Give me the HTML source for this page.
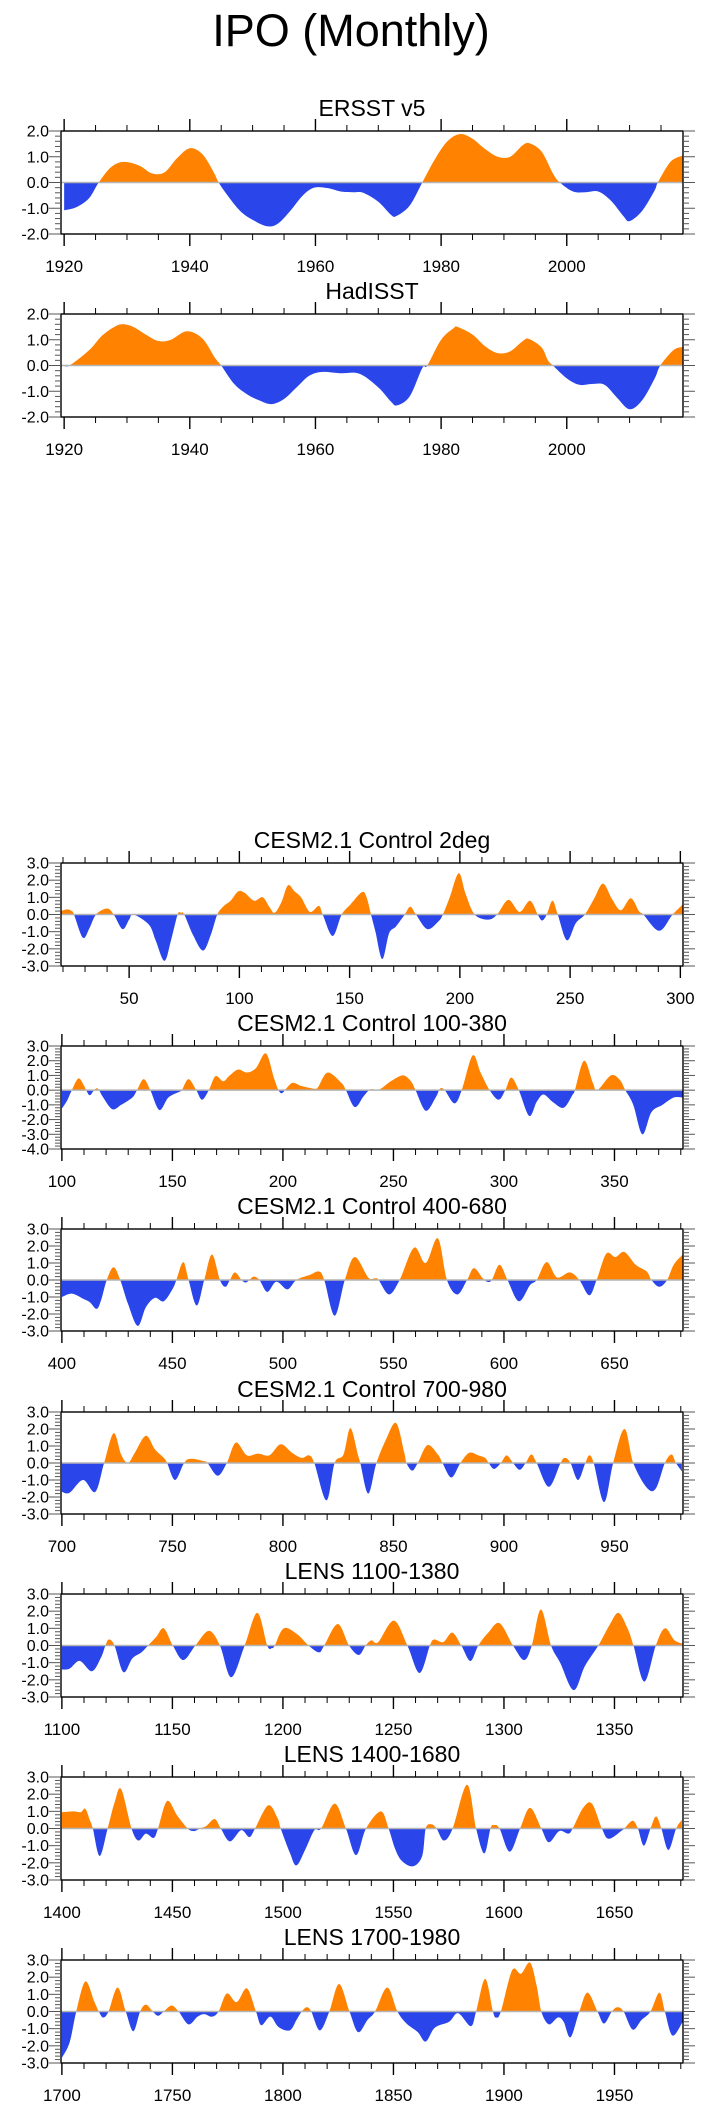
<!DOCTYPE html>
<html><head><meta charset="utf-8"><title>IPO (Monthly)</title>
<style>
html,body{margin:0;padding:0;background:#fff;}
svg{display:block;font-family:"Liberation Sans",sans-serif;}
</style></head>
<body>
<svg id="chart" width="703" height="2109" viewBox="0 0 703 2109" xmlns="http://www.w3.org/2000/svg">
<text x="351" y="46" text-anchor="middle" font-size="45" fill="#000">IPO (Monthly)</text>
</svg>
<script>
// ===== Data (x positions in years, values = IPO index) =====
const ersstX = [1920,1922,1924,1925.5,1927.5,1929.5,1932,1934,1936,1938,1940,1942,1943.8,1944.6,1946,1948,1950,1952.3,1954,1956,1958,1959.8,1962,1964,1966,1967.6,1970,1972,1972.9,1975,1977,1979,1981,1983,1985,1987,1989,1991,1993,1994.1,1996,1997.8,1998.9,2001,2003,2005,2007,2009,2010,2012,2014,2014.5,2016.5,2018.4];
const ersstV = [-1.08,-0.95,-0.6,0,0.6,0.8,0.65,0.35,0.4,0.95,1.33,1.1,0.4,0,-0.5,-1.1,-1.45,-1.7,-1.6,-1.1,-0.5,-0.2,-0.22,-0.35,-0.38,-0.4,-0.75,-1.25,-1.3,-0.9,0,0.9,1.6,1.88,1.7,1.3,1.0,1.0,1.45,1.52,1.2,0.35,0,-0.35,-0.38,-0.35,-0.7,-1.3,-1.5,-1.1,-0.3,0,0.8,1.05];
const hadX = [1920,1921,1924,1926,1928,1929.3,1931,1933,1935,1937,1939.5,1942,1944,1945,1947,1949,1951,1953,1955,1957,1959,1961,1964,1967,1970,1972,1973,1975,1977,1977.8,1980,1982,1982.6,1985,1987,1989,1991,1993,1994,1996,1997,1997.8,2000,2002,2004,2006,2008,2010,2012,2014,2014.9,2017,2018.4];
const hadV = [-0.02,0.02,0.6,1.15,1.5,1.6,1.5,1.2,0.95,1.0,1.33,1.05,0.3,0,-0.7,-1.1,-1.35,-1.5,-1.3,-0.85,-0.4,-0.25,-0.3,-0.32,-0.85,-1.4,-1.55,-1.2,-0.1,0,1.0,1.45,1.5,1.2,0.75,0.48,0.55,0.95,1.03,0.7,0.2,0,-0.5,-0.75,-0.72,-0.75,-1.25,-1.7,-1.35,-0.5,0,0.6,0.72];
const c2degX = [19,22,24,25,29,32,35,40,43,47,50,52,59,62,66,69,72,73.5,75,79,83.5,87,90,93,96,99.5,102.5,106.7,110.6,113.8,116,119,122,125,128,132,136,137.8,142.3,146.4,150.5,155.6,157.7,159.7,161.7,164.8,167.9,171,175,177.5,180.1,185.2,190.3,192.3,195.4,199.5,202.6,206.7,212.8,216.9,222,227.1,231.8,235.3,237.3,239.4,242,244.4,248.5,252.6,256.7,260.8,264.9,269,273,277.5,281.2,283.2,290.4,296.5,301.6];
const c2degV = [0.2,0.3,0.2,0,-1.35,-0.8,0,0.35,0,-0.85,-0.3,0,-0.6,-1.5,-2.7,-1.5,0,0.1,0,-1.2,-2.1,-1.2,0,0.5,0.8,1.35,1.25,0.8,1.0,0.4,0.1,0.7,1.7,1.35,1.0,0.15,0.5,0,-1.25,0,0.6,1.3,1.0,0,-1.0,-2.6,-1.1,-0.7,0,0.45,0,-0.85,-0.4,0,1.0,2.4,1.2,0,-0.3,0,0.85,0.15,0.8,0,-0.35,0,0.8,0,-1.5,-0.5,0,0.9,1.8,0.9,0.25,0.95,0.2,0,-0.95,0,0.65];
const c100X = [100,102.4,104.5,107.5,110,111,112.6,114.6,116.3,118.7,122.8,126.8,131.9,134,137,140,144.1,148.2,153.3,154.3,157.3,160.8,163.4,166.5,169.5,173,175.6,179.7,183.7,187.8,192.3,196,198,199.6,202,204.5,208,212.2,215.2,216.3,220.3,226.4,228.5,232.5,236.6,239.6,243.7,248.8,254.3,257.9,260,264.6,269.1,271.1,273.2,277.6,280.9,285.8,289.4,293.5,297.6,300.6,303.3,306.7,311.4,314.8,317.9,322,327,331.1,332.1,336.2,340.2,342.3,348.4,352.4,354.9,358.5,362.6,366.7,371.7,376.8,380.9];
const c100V = [-1.25,-0.7,0,0.8,0.3,0,-0.35,0,0.1,-0.5,-1.3,-1.0,-0.5,0,0.75,0,-1.35,-0.5,-0.1,0,0.75,0,-0.65,0,0.95,0.6,0.95,1.4,1.2,1.5,2.5,0.8,0,-0.2,0.2,0.5,0.3,0.15,0.1,0.3,1.2,0.5,0,-1.15,-0.4,0.05,0.05,0.6,1.0,0.6,0,-1.4,-0.5,0.1,0,-0.9,0,2.35,1.2,0,-0.65,0,0.85,0,-1.75,-0.8,-0.3,-0.8,-1.2,-0.3,0,2.0,0.5,0,1.0,0.7,0,-1.0,-3.0,-1.5,-1.0,-0.5,-0.5];
const c400X = [400,404.5,409.6,412.6,415.7,417.7,420.3,423.4,426.4,429.9,434.3,438,442.1,446.1,450.2,451.8,454.9,457.3,461,464.4,467.9,471.5,474,476,478.3,481.3,483.1,484.8,486.8,489.4,492.9,497,502,506.1,512.2,516.3,518.7,523.4,528,532.5,538.6,541.7,543.3,548,552.8,559.3,564.6,570.1,574.2,578.9,583.3,586.4,590.4,592.5,594.5,598,601.6,606.7,611.8,614.8,619.3,624,629.7,634.1,638.6,641.9,646.3,650.4,654.5,659.6,664.6,666.7,670.3,673.8,676.8,680.9];
const c400V = [-1.0,-0.8,-1.1,-1.3,-1.7,-1.2,0,0.75,0,-1.4,-2.7,-1.6,-1.05,-1.25,-0.5,0,1.05,0,-1.5,0,1.5,0,-0.4,0,0.45,0,-0.15,0,0.2,0,-0.7,-0.1,-0.55,0,0.3,0.5,0,-2.1,0,1.35,0.15,0.1,0,-0.85,0,1.9,1.0,2.45,0,-0.85,0,0.7,0.1,-0.1,0,0.9,0,-1.25,-0.3,0,1.05,0.15,0.45,0,-0.9,0,1.55,1.35,1.65,0.9,0.5,0,-0.4,0,0.9,1.5];
const c700X = [700,703.5,709.6,715.1,719.1,723.4,726.8,729.9,733,738,742.1,746.1,747.6,751.2,755.3,758.3,764.4,765.9,770.5,774.6,778.7,783.7,788.8,793.9,799,804.1,808.5,811.8,814.2,819.7,823.4,827.4,830.5,833.9,835,838.6,842.3,846.7,851.2,854.9,855.9,858.5,861,865.4,870.1,872.2,876.2,880.3,884.3,888.4,891.5,893.1,895.5,898.6,901.2,904.1,907.1,909.8,912.4,914.8,920.3,925.6,927.6,930.1,933.5,936.8,938.6,940.6,945.3,949.4,954.5,958.5,964.6,968.7,972.8,975.8,977.8,980.5];
const c700V = [-1.7,-1.75,-1.0,-1.7,0,1.75,0.5,0,0.6,1.6,0.8,0.3,0,-1.0,0,0.25,0.1,0,-0.75,0,1.2,0.45,0.55,0.45,1.1,0.6,0.3,0.45,0,-2.2,0,0.5,2.05,0.5,0,-1.8,0,1.4,2.35,0.6,0,-0.45,0,1.05,0.5,0,-0.85,0,0.6,0.45,0.3,0,-0.35,0,0.45,0,-0.4,0,0.5,0,-1.4,0,0.3,0,-1.0,0,0.45,0,-2.3,0,2.0,0,-1.45,-1.5,0,0.5,0,-0.5];
const l1100X = [1100,1103.5,1108.1,1113.6,1117.7,1119.7,1121.3,1123.8,1127.8,1131.9,1136,1139,1142.7,1146.1,1150.2,1154.9,1160.4,1166.5,1171.5,1176.6,1182.7,1188.4,1192.9,1195,1196.3,1200.4,1206.5,1211.6,1216.3,1218.7,1224.8,1229.9,1234.3,1237.4,1240,1243.1,1250.2,1256.3,1261.8,1266.5,1268.5,1272.6,1276.6,1280.7,1284.8,1288.4,1292.9,1298,1304.1,1309.1,1312.6,1316.7,1321.3,1325.4,1331.5,1336.6,1342.7,1347.8,1351.8,1355.9,1358.6,1363.5,1368.7,1372.8,1377.2,1381.3];
const l1100V = [-1.4,-1.35,-0.9,-1.5,-0.7,0,0.35,0,-1.55,-0.75,-0.4,0,0.5,1.0,0,-0.85,0,0.85,0,-1.85,0,1.9,0,-0.15,0,1.0,0.65,0,-0.4,0,1.25,0,-0.55,0,0.3,0.2,1.45,0,-1.6,0,0.35,0.2,0.75,0,-0.9,0,0.75,1.3,0,-0.85,0,2.1,0,-1.0,-2.6,-1.2,0,1.2,1.9,1.0,0,-2.1,0,1.0,0.3,0.1];
const l1400X = [1400,1405.5,1408.5,1410.6,1412.6,1414,1417.1,1420.7,1423.8,1426.8,1431.5,1434.6,1438,1441.5,1443.5,1447.6,1452.2,1456.9,1459.8,1462.4,1465.4,1469.1,1471.9,1476,1481.1,1484.8,1487.4,1493.3,1497.6,1499,1503.1,1506.1,1510.2,1514.2,1517.3,1523.4,1528.5,1533.1,1537.6,1544.3,1547.8,1550.8,1553.9,1558.9,1563,1564.6,1567.1,1569.5,1572.8,1576.8,1583.3,1587.4,1591.1,1593.9,1595.5,1598,1602.6,1607.3,1611.8,1616.9,1620.3,1625,1629.1,1631.1,1635.8,1639.8,1644.3,1647.4,1653.5,1654.5,1658.2,1660.6,1663.3,1666.3,1668.8,1671.2,1674.4,1677.9,1680.5];
const l1400V = [0.95,1.0,0.95,1.15,0.5,0,-1.6,0,1.5,2.3,0,-0.7,-0.3,-0.55,0,1.6,0.75,0,-0.15,0,0.15,0.55,0,-0.75,-0.1,-0.5,0,1.35,0.6,0,-1.4,-2.15,-1.2,-0.1,0,1.45,0,-1.55,0,1.0,0,-1.2,-1.9,-2.2,-1.6,0,0.25,0,-0.7,0,2.55,0,-1.45,0,0.2,0,-1.35,0,1.2,0,-0.8,-0.15,-0.3,0,1.2,1.45,0,-0.6,-0.1,0,0.45,0,-1.0,0,0.7,0,-1.25,0,0.5];
const l1700X = [1700,1703.5,1706.5,1710.6,1714.6,1716.7,1718.7,1721.1,1725.2,1728.9,1732.3,1735.4,1738,1741.1,1743.5,1746.1,1749.6,1752.8,1757.3,1761.4,1764.4,1767.9,1770.9,1774.6,1779.1,1783.7,1787.8,1790.2,1794.3,1798,1803.1,1806.1,1808.5,1810.8,1812.8,1816.7,1821,1825.4,1830.1,1834,1838.2,1841.7,1847.2,1851.8,1855.9,1861,1864.6,1868.7,1875.2,1879.3,1885,1887.4,1891.5,1895,1896.5,1898.6,1903.7,1907.7,1911.8,1914.8,1916.9,1920.3,1924.4,1927,1930.1,1934.1,1937.8,1942.3,1945.3,1948.8,1951.4,1954.1,1958.2,1962.2,1966.3,1970.3,1972.8,1976.2,1980.9];
const l1700V = [-2.7,-1.8,0,1.75,0.6,0,-0.35,0,1.4,0,-1.15,0,0.4,0,-0.25,0,0.35,0,-0.75,-0.3,-0.15,-0.3,0,1.05,0.55,1.35,0,-0.8,-0.3,-0.9,-1.1,-0.5,0,0.25,0,-1.1,0,1.6,0,-1.2,-0.5,0,1.4,0,-0.7,-1.2,-1.75,-0.95,-0.6,-0.1,-0.85,0,1.9,0,-0.35,0,2.4,2.2,2.85,1.5,0,-0.75,-0.35,-0.6,-1.5,0,1.1,0,-0.7,0,0.25,0,-1.05,-0.5,0,1.1,0,-1.4,-0.6];
const yTicksSmall = ["2.0","1.0","0.0","-1.0","-2.0"];
const yTicks3 = ["3.0","2.0","1.0","0.0","-1.0","-2.0","-3.0"];
const yTicks4 = ["3.0","2.0","1.0","0.0","-1.0","-2.0","-3.0","-4.0"];

// ===== Drawing =====
const NS = "http://www.w3.org/2000/svg";
const svg = document.getElementById('chart');
const BL = 61, BR = 683;
function mk(tag, attrs, parent){
  const e = document.createElementNS(NS, tag);
  for (const k in attrs) e.setAttribute(k, attrs[k]);
  (parent||svg).appendChild(e);
  return e;
}
function smoothPath(pts){
  let d = "M" + pts[0][0].toFixed(2) + "," + pts[0][1].toFixed(2);
  for (let i = 0; i < pts.length - 1; i++){
    const p0 = pts[Math.max(0,i-1)], p1 = pts[i], p2 = pts[i+1], p3 = pts[Math.min(pts.length-1,i+2)];
    const c1x = p1[0] + (p2[0]-p0[0])/6, c1y = p1[1] + (p2[1]-p0[1])/6;
    const c2x = p2[0] - (p3[0]-p1[0])/6, c2y = p2[1] - (p3[1]-p1[1])/6;
    d += "C" + c1x.toFixed(2)+","+c1y.toFixed(2)+" "+c2x.toFixed(2)+","+c2y.toFixed(2)+" "+p2[0].toFixed(2)+","+p2[1].toFixed(2);
  }
  return d;
}
let clipId = 0;
function panel(p){
  const g = mk('g', {});
  
  
  const xs = v => BL + (v - p.x0) / (p.x1 - p.x0) * (BR - BL);
  const ys = v => p.top + (p.ymax - v) / (p.ymax - p.ymin) * (p.bot - p.top);
  const zy = ys(0);
  const t = mk('text', {x: (BL+BR)/2, y: p.top - 15, 'text-anchor':'middle', 'font-size':23, fill:'#000'}, g);
  t.textContent = p.title;
  
  
  const pts = p.xv.map((x,i) => [xs(x), ys(p.vv[i])]);
  const d = smoothPath(pts) + "L" + pts[pts.length-1][0].toFixed(2) + "," + zy.toFixed(2) + "L" + pts[0][0].toFixed(2) + "," + zy.toFixed(2) + "Z";
  const id1 = 'cp' + (clipId++), id2 = 'cp' + (clipId++);
  const defs = mk('defs', {}, g);
  const c1 = mk('clipPath', {id:id1}, defs);
  mk('rect', {x:BL, y:p.top, width:BR-BL, height:zy-p.top}, c1);
  const c2 = mk('clipPath', {id:id2}, defs);
  mk('rect', {x:BL, y:zy, width:BR-BL, height:p.bot-zy}, c2);
  const pos = mk('path', {d:d, fill:'#ff8200', 'clip-path':'url(#'+id1+')'}, g);
  
  
  const neg = mk('path', {d:d, fill:'#2a46eb', 'clip-path':'url(#'+id2+')'}, g);
  
  
  const zl = mk('line', {x1:BL, x2:BR, y1:zy, y2:zy, stroke:'#b4b4b4', 'stroke-width':1.5}, g);
  
  
  const box = mk('rect', {x:BL, y:p.top, width:BR-BL, height:p.bot-p.top, fill:'none', stroke:'#000', 'stroke-width':1.4}, g);
  
  
  const start = Math.ceil(p.x0 / p.minor) * p.minor;
  for (let v = start; v <= p.x1 + 1e-6; v += p.minor){
    const major = Math.abs(v / p.major - Math.round(v / p.major)) < 1e-6;
    const L = major ? 12 : 6;
    const x = xs(v);
    mk('line', {x1:x, x2:x, y1:p.top, y2:p.top-L, stroke:'#000', 'stroke-width':major?1.4:1}, g);
    mk('line', {x1:x, x2:x, y1:p.bot, y2:p.bot+L, stroke:'#000', 'stroke-width':major?1.4:1}, g);
    if (major){
      const lb = mk('text', {x:x, y:p.bot+38, 'text-anchor':'middle', 'font-size':17, fill:'#000'}, g);
      lb.textContent = String(Math.round(v));
      
      
    }
  }
  for (let k = 0; k <= (p.ymax - p.ymin) * 5 + 1e-6; k++){
    const v = p.ymax - k * 0.2;
    const y = ys(v);
    const major = k % 5 === 0;
    const L = major ? 12 : 6;
    mk('line', {x1:BL, x2:BL-L, y1:y, y2:y, stroke:'#555', 'stroke-width':1}, g);
    mk('line', {x1:BR, x2:BR+L, y1:y, y2:y, stroke:'#555', 'stroke-width':1}, g);
  }
  p.ylabels.forEach((s, i) => {
    const lb = mk('text', {x:49, y:ys(p.ymax - i) + 5.5, 'text-anchor':'end', 'font-size':16, fill:'#000'}, g);
    lb.textContent = s;
    
    
  });
}
panel({name:'ersst-panel', title:'ERSST v5', xv:ersstX, vv:ersstV, x0:1919.5, x1:2018.5, major:20, minor:5, top:131, bot:234, ymin:-2, ymax:2, ylabels:yTicksSmall});
panel({name:'hadisst-panel', title:'HadISST', xv:hadX, vv:hadV, x0:1919.5, x1:2018.5, major:20, minor:5, top:314, bot:417, ymin:-2, ymax:2, ylabels:yTicksSmall});
panel({name:'cesm-2deg-panel', title:'CESM2.1 Control 2deg', xv:c2degX, vv:c2degV, x0:19.1, x1:301.2, major:50, minor:10, top:863, bot:966, ymin:-3, ymax:3, ylabels:yTicks3});
panel({name:'cesm-100-380-panel', title:'CESM2.1 Control 100-380', xv:c100X, vv:c100V, x0:99.6, x1:381, major:50, minor:10, top:1046, bot:1149, ymin:-4, ymax:3, ylabels:yTicks4});
panel({name:'cesm-400-680-panel', title:'CESM2.1 Control 400-680', xv:c400X, vv:c400V, x0:399.6, x1:681, major:50, minor:10, top:1229, bot:1331, ymin:-3, ymax:3, ylabels:yTicks3});
panel({name:'cesm-700-980-panel', title:'CESM2.1 Control 700-980', xv:c700X, vv:c700V, x0:699.6, x1:981, major:50, minor:10, top:1412, bot:1514, ymin:-3, ymax:3, ylabels:yTicks3});
panel({name:'lens-1100-1380-panel', title:'LENS 1100-1380', xv:l1100X, vv:l1100V, x0:1099.6, x1:1381, major:50, minor:10, top:1594, bot:1697, ymin:-3, ymax:3, ylabels:yTicks3});
panel({name:'lens-1400-1680-panel', title:'LENS 1400-1680', xv:l1400X, vv:l1400V, x0:1399.6, x1:1681, major:50, minor:10, top:1777, bot:1880, ymin:-3, ymax:3, ylabels:yTicks3});
panel({name:'lens-1700-1980-panel', title:'LENS 1700-1980', xv:l1700X, vv:l1700V, x0:1699.6, x1:1981, major:50, minor:10, top:1960, bot:2063, ymin:-3, ymax:3, ylabels:yTicks3});
</script>
</body></html>
